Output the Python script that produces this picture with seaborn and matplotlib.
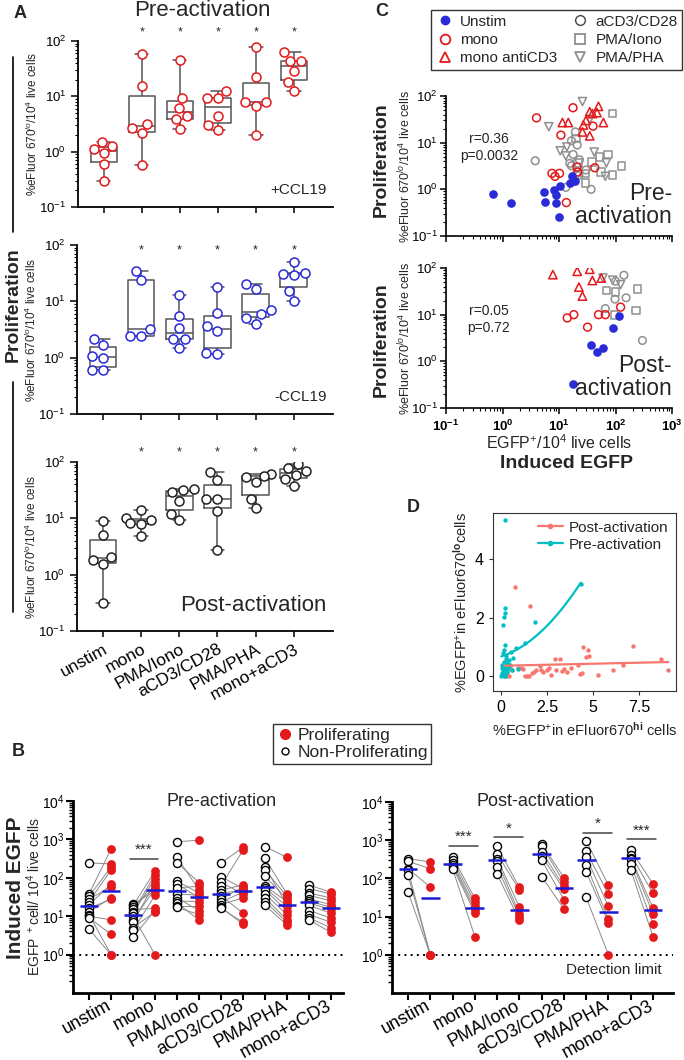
import numpy as np
import pandas as pd
import matplotlib
matplotlib.use('Agg')
import matplotlib.pyplot as plt
from matplotlib.lines import Line2D
from matplotlib.ticker import LogLocator, FixedLocator, NullFormatter, LogFormatterSciNotation
import seaborn as sns

W, H = 684, 1060

CONDS = ['unstim', 'mono', 'PMA/Iono', 'aCD3/CD28', 'PMA/PHA', 'mono+aCD3']

# Panel A: proliferation per condition (one list per condition)
A_PLUS = [[1.52, 1.27, 1.11, 0.93, 0.59, 0.30],
          [59, 15.3, 3.2, 2.64, 2.18, 0.58],
          [45, 9.2, 6.05, 4.4, 3.84, 2.54],
          [12.4, 9.4, 9.4, 4.47, 3.03, 2.47],
          [78, 22.5, 7.8, 7.8, 6.7, 2.03],
          [63, 43.6, 43.6, 28.8, 17.8, 12.4]]
A_MINUS = [[2.16, 1.71, 1.09, 0.98, 0.61, 0.61],
           [35, 24, 3.2, 2.47, 2.45],
           [13, 5.45, 3.43, 2.16, 2.16, 1.5],
           [18, 6.3, 3.62, 2.99, 1.2, 1.16],
           [20.6, 16.8, 7.05, 5.9, 5.15, 4.04],
           [49, 32.4, 30.6, 29.5, 15.1, 10.2]]
A_POST = [[9.0, 5.1, 2.06, 1.85, 1.55, 0.31],
          [14.1, 10, 9.5, 8.3, 8.0, 4.9],
          [33.2, 31.4, 29, 20.6, 12.1, 9.2],
          [66, 48.5, 22, 22, 13.3, 2.78],
          [62, 57, 54, 43.5, 22.4, 15],
          [92, 77, 68, 58, 50, 38]]
A_STAR_Y = [140, 81, 150]

# Panel B: induced EGFP, paired per donor (non-proliferating vs proliferating)
B_PRE_NON = [[245, 38, 33, 28, 24, 20, 16, 13, 11, 10, 9, 4.6],
             [21, 19, 17, 15, 13, 12, 10, 8, 7, 5, 4.3, 2.9],
             [870, 340, 250, 82, 70, 55, 38, 30, 25, 22, 18, 17],
             [240, 108, 76, 62, 48, 40, 34, 28, 23, 20, 17, 16],
             [650, 320, 190, 160, 110, 62, 55, 48, 38, 30, 24, 19],
             [65, 52, 40, 35, 28, 25, 22, 19, 14, 11, 9, 8]]
B_PRE_PRO = [[230, 560, 190, 58, 160, 68, 28, 30, 1, 8, 3.4, 1],
             [45, 150, 60, 16, 120, 95, 1, 52, 75, 13, 35, 14],
             [950, 48, 75, 40, 30, 60, 35, 14, 24, 8, 18, 11],
             [620, 52, 38, 520, 65, 47, 12, 58, 43, 30, 6.2, 7],
             [340, 38, 20, 33, 28, 24, 18, 14, 11, 8, 7, 6],
             [42, 38, 30, 25, 20, 17, 15, 12, 9, 7, 5, 3.8]]
B_POST_NON = [[330, 280, 180, 165, 120, 44],
              [370, 300, 250, 230, 200, 180],
              [700, 440, 330, 280, 200, 130],
              [800, 720, 500, 380, 300, 112],
              [980, 520, 360, 230, 148, 32],
              [560, 420, 350, 320, 240, 170]]
B_POST_PRO = [[270, 180, 59, 1, 1, 1],
              [30, 24, 19, 15, 12.5, 3],
              [58, 50, 18, 12, 10, 8],
              [105, 80, 62, 52, 28, 16],
              [66, 38, 18.6, 8.5, 7, 1],
              [72, 41, 17, 12, 6.5, 3]]
SIG_PRE = [(1, 310, '***')]
SIG_POST = [(1, 720, '***'), (2, 1200, '*'), (4, 1540, '*'), (5, 1050, '***')]

# Panel C: EGFP+ vs proliferation (x, y)
PRE_UNSTIM = ([0.68, 1.4, 5.4, 5.6, 8.2, 8.9, 8.7, 9.9, 10.5, 15.4, 17, 19.5],
              [0.78, 0.52, 0.88, 0.54, 0.98, 0.75, 0.52, 0.26, 1.16, 1.37, 1.9, 1.53])
PRE_MONO = ([4.0, 17.7, 10.8, 40, 7.5, 10.2, 20.8, 21.4, 43, 13.5, 8.5],
            [34, 56, 14.5, 22.6, 2.2, 2.2, 3.0, 2.35, 2.9, 0.52, 1.9])
PRE_MONOCD3 = ([11.5, 14.6, 27, 30, 35, 39, 47, 50, 61, 26, 35],
               [27, 27, 24, 30, 46, 42, 44, 60, 27, 17, 14])
PRE_CD28 = ([3.8, 19.5, 16.6, 21, 17.8, 15.5, 23, 30, 13.2, 37, 22.5, 16.6],
            [4.1, 17, 11, 8.9, 5.6, 3.6, 4.3, 2.6, 1.1, 1.0, 2.0, 3.2])
PRE_IONO = ([21.5, 38, 52, 73, 29, 56, 89, 127, 29.5, 89, 20],
            [3.7, 3.9, 5.0, 5.6, 2.2, 2.35, 2.0, 3.2, 1.37, 42, 12.3])
PRE_PHA = ([26, 6.6, 35, 10.5, 13.2, 13.8, 42, 69, 66, 21],
           [76, 22, 31.5, 6.7, 5.2, 8.1, 6.3, 3.7, 1.9, 1.95])
POST_UNSTIM = ([117, 92, 37, 47, 60, 17.8], [9.2, 5.2, 2.2, 1.56, 1.9, 0.32])
POST_MONO = ([14, 18.3, 32, 50, 66, 123], [8.5, 10, 5.4, 10, 10, 14.5])
POST_MONOCD3 = ([7.8, 21, 35, 39, 56, 22.5, 26], [72, 85, 94, 54, 61, 39, 25])
POST_CD28 = ([66, 100, 141, 154, 300, 98], [13.5, 52, 70, 23, 2.8, 21.5])
POST_IONO = ([69, 100, 245, 229, 96], [33, 31, 36, 12.4, 9.7])
POST_PHA = ([60, 89, 123], [61, 55, 44])

# Panel D: %EGFP+ in eFluor670 hi vs lo cells
PRE_D_X = [0.24, 4.33, 0.24, 0.24, 0.16, 0.11, 1.87, 1.29, 0.83, 0.24, 0.16, 0.56, 0.65,
           0.38, 0.1, 0.2, 0.3, 0.05, 0.12, 0.45, 0.28, 0.18, 0.08, 0.35, 0.5, 0.22,
           0.15, 0.02, 0.06, 0.4, 0.3, 0.1, 0.25, 0.6, 0.95, 0.14, 0.33, 0.04]
PRE_D_Y = [5.31, 3.14, 2.32, 2.15, 2.03, 1.75, 1.86, 1.12, 0.97, 1.06, 0.89, 0.83, 0.61,
           0.43, 0.3, 0.35, 0.7, 0.1, 0.2, 0.55, 0.25, 0.5, 0.05, 0.15, 0.4, 0.0,
           0.12, 0.02, 0.38, 0.3, 0.6, 0.8, 0.45, 0.22, 0.25, 0.0, 0.18, 0.28]
POST_D_X = [0.78, 1.56, 4.47, 4.73, 4.64, 7.17, 4.8, 2.95, 3.19, 8.68, 9.08, 6.09, 6.63,
            5.27, 0.3, 0.5, 0.9, 1.1, 1.3, 1.5, 1.7, 1.9, 2.1, 2.3, 2.5, 2.7, 3.4,
            3.6, 3.8, 4.2, 4.4, 0.2, 0.35, 0.6, 1.2, 1.8, 2.6, 3.0, 3.3, 0.45, 4.3, 1.4, 2.2]
POST_D_Y = [3.04, 2.4, 1.0, 0.89, 0.66, 1.04, 0.69, 0.59, 0.58, 0.6, 0.23, 0.23, 0.38,
            0.03, 0.0, 0.3, 0.28, 0.3, 0.0, 0.0, 0.1, 0.2, 0.35, 0.15, 0.2, 0.05, 0.25,
            0.15, 0.3, 0.4, 0.12, 0.05, 0.1, 0.2, 0.25, 0.15, 0.3, 0.2, 0.18, 0.0, 0.08, 0.0, 0.22]

RED = '#e3191c'
BLUE = '#2a2ad8'
GRAY = '#8f8f8f'

sns.set_style('ticks')
plt.rcParams['font.family'] = ['Liberation Sans', 'DejaVu Sans']
plt.rcParams['mathtext.fontset'] = 'custom'
plt.rcParams['mathtext.rm'] = 'Liberation Sans'
plt.rcParams['mathtext.it'] = 'Liberation Sans:italic'
plt.rcParams['mathtext.bf'] = 'Liberation Sans:bold'
plt.rcParams['axes.edgecolor'] = 'black'
plt.rcParams['xtick.color'] = 'black'
plt.rcParams['ytick.color'] = 'black'


def ax_px(fig, l, t, r, b):
    return fig.add_axes([l / W, 1 - b / H, (r - l) / W, (b - t) / H])


def log_ticks(axis, lo, hi, labeled=True):
    axis.set_major_locator(FixedLocator([10.0 ** k for k in range(lo, hi + 1)]))
    axis.set_minor_locator(LogLocator(base=10, subs=np.arange(2, 10), numticks=20))
    axis.set_minor_formatter(NullFormatter())
    if labeled:
        axis.set_major_formatter(LogFormatterSciNotation())
    else:
        axis.set_major_formatter(NullFormatter())


def box_panel(ax, vals, color, star_y, tag, tag_size, tag_y, show_labels):
    df = pd.DataFrame({'cond': np.repeat(CONDS, [len(v) for v in vals]),
                       'val': np.concatenate(vals)})
    sns.boxplot(data=df, x='cond', y='val', order=CONDS, log_scale=True,
                whis=(0, 100), fill=False, color='#555555', width=0.7,
                linewidth=1.1, showfliers=False, ax=ax)
    n0 = len(ax.collections)
    sns.swarmplot(data=df, x='cond', y='val', order=CONDS, log_scale=True,
                  size=6.5, color=color, ax=ax, zorder=3)
    # hollow markers, one collection per category
    for pts in ax.collections[n0:]:
        pts.set_facecolor('white')
        pts.set_edgecolor(color)
        pts.set_linewidth(1.1)

    ax.set_ylim(0.1, 100)
    ax.set_xlim(-0.68, 6.03)
    log_ticks(ax.yaxis, -1, 2)
    ax.set_xticks(range(len(CONDS)))
    if show_labels:
        ax.set_xticklabels(CONDS, rotation=29, ha='right', rotation_mode='anchor',
                           fontsize=12.5)
    else:
        ax.set_xticklabels([])
    ax.set_xlabel('')
    ax.set_ylabel('%eFluor 670$^{lo}$/10$^4$ live cells', fontsize=8.5)
    ax.yaxis.set_label_coords(-0.15, 0.5)
    ax.tick_params(axis='y', which='major', labelsize=9.5, length=5, width=1.1)
    ax.tick_params(axis='y', which='minor', length=2.5, width=0.8)
    ax.tick_params(axis='x', length=4, width=1.1)
    sns.despine(ax=ax)
    for s in ['left', 'bottom']:
        ax.spines[s].set_linewidth(1.3)
    for i in range(1, len(CONDS)):
        ax.text(i, star_y, '*', ha='center', va='center', fontsize=9, clip_on=False)
    ax.text(0.975, tag_y, tag, transform=ax.transAxes, ha='right', va='center',
            fontsize=tag_size)


def pair_panel(ax, non, pro, title, title_x, sig):
    rows = []
    for i in range(len(CONDS)):
        for d, (a, b) in enumerate(zip(non[i], pro[i])):
            rows.append({'pos': 2 * i, 'val': a, 'grp': 'non', 'unit': f'{i}_{d}'})
            rows.append({'pos': 2 * i + 1, 'val': b, 'grp': 'pro', 'unit': f'{i}_{d}'})
    df = pd.DataFrame(rows)
    ax.set_yscale('log')
    sns.lineplot(data=df, x='pos', y='val', units='unit', estimator=None,
                 color='#8a8a8a', lw=0.7, ax=ax, legend=False, zorder=1)
    sns.scatterplot(data=df[df.grp == 'non'], x='pos', y='val', s=34, color='white',
                    edgecolor='black', linewidth=1.0, ax=ax, zorder=3)
    sns.scatterplot(data=df[df.grp == 'pro'], x='pos', y='val', s=40, color=RED,
                    edgecolor=RED, linewidth=0, ax=ax, zorder=3)
    med = df.groupby('pos')['val'].median()
    ax.hlines(med.values, med.index - 0.42, med.index + 0.42, color='#1a1ad6',
              lw=1.8, zorder=4)
    ax.axhline(1, color='black', ls=(0, (1, 2.2)), lw=1.4, zorder=0)
    for i, y, txt in sig:
        ax.plot([2 * i - 0.15, 2 * i + 1.15], [y, y], color='#444444', lw=1.1)
        ax.text(2 * i + 0.5, y * 1.12, txt, ha='center', va='bottom', fontsize=11)

    ax.set_ylim(0.1, 1e4)
    log_ticks(ax.yaxis, 0, 4)
    ax.set_xticks(range(12))
    ax.set_xticklabels([])
    ax.set_xticks([2 * i + 0.78 for i in range(len(CONDS))], minor=True)
    ax.set_xticklabels(CONDS, minor=True, rotation=29, ha='right',
                       rotation_mode='anchor', fontsize=13)
    ax.tick_params(axis='x', which='minor', length=0, pad=3)
    ax.tick_params(axis='x', which='major', length=5, width=1.5)
    ax.tick_params(axis='y', which='major', labelsize=10, length=5, width=1.5, pad=1)
    ax.tick_params(axis='y', which='minor', length=3, width=1.0)
    ax.set_xlabel('')
    ax.set_ylabel('')
    sns.despine(ax=ax)
    for s in ['left', 'bottom']:
        ax.spines[s].set_linewidth(2.0)
    ax.text(title_x, 1.0, title, transform=ax.transAxes, ha='center', va='center',
            fontsize=13)


def scatter_panel(ax, groups, stats, tag, xlabels):
    ax.set_xscale('log')
    ax.set_yscale('log')
    for (xs, ys), color, marker, hollow, size in groups:
        sns.scatterplot(x=xs, y=ys, marker=marker, s=size, color=color,
                        linewidth=1.1, ax=ax, zorder=3)
        pts = ax.collections[-1]
        if hollow:
            pts.set_facecolor('none')
        pts.set_edgecolor(color)
    ax.set_xlim(0.1, 1000)
    ax.set_ylim(0.1, 100)
    log_ticks(ax.yaxis, -1, 2)
    log_ticks(ax.xaxis, -1, 3, labeled=xlabels)
    ax.tick_params(axis='both', which='major', labelsize=9.5, length=4, width=1.1)
    ax.tick_params(axis='y', which='major', pad=2)
    ax.tick_params(axis='both', which='minor', length=2, width=0.8)
    if xlabels:
        for lab in ax.get_xticklabels():
            lab.set_fontweight('bold')
    sns.despine(ax=ax)
    for s in ['left', 'bottom']:
        ax.spines[s].set_linewidth(1.2)
    ax.set_ylabel('%eFluor 670$^{lo}$/10$^4$ live cells', fontsize=9)
    ax.yaxis.set_label_coords(-0.145, 0.5)
    ax.text(0.19, 0.63, stats, transform=ax.transAxes, ha='center', va='center',
            fontsize=10, linespacing=1.25)
    ax.text(1.0, 0.22, tag, transform=ax.transAxes, ha='right', va='center',
            fontsize=16.5, linespacing=1.0)


fig = plt.figure(figsize=(W / 100, H / 100), dpi=100)

# ---- Panel A ----
a1 = ax_px(fig, 78, 41, 333, 207)
box_panel(a1, A_PLUS, RED, A_STAR_Y[0], '+CCL19', 11, 0.10, False)
a2 = ax_px(fig, 77, 245, 333, 414)
box_panel(a2, A_MINUS, BLUE, A_STAR_Y[1], '-CCL19', 11, 0.10, False)
a3 = ax_px(fig, 77, 462, 333, 631)
box_panel(a3, A_POST, '#222222', A_STAR_Y[2], 'Post-activation', 16, 0.15, True)

fig.text(20 / W, 1 - 13 / H, 'A', fontsize=13, fontweight='bold', ha='center', va='center')
fig.text(202 / W, 1 - 11 / H, 'Pre-activation', fontsize=16, ha='center', va='center')
fig.text(13 / W, 1 - 305 / H, 'Proliferation', fontsize=14, fontweight='bold',
         rotation=90, ha='center', va='center')
for y0, y1 in [(57, 232), (382, 612)]:
    fig.add_artist(Line2D([13 / W, 13 / W], [1 - y0 / H, 1 - y1 / H], color='black',
                          lw=1.2, transform=fig.transFigure))

# ---- Panel B ----
b1 = ax_px(fig, 73, 801, 343, 993)
pair_panel(b1, B_PRE_NON, B_PRE_PRO, 'Pre-activation', 0.55, SIG_PRE)
b1.set_xlim(-0.73, 11.55)
b2 = ax_px(fig, 392, 802, 673, 993)
pair_panel(b2, B_POST_NON, B_POST_PRO, 'Post-activation', 0.51, SIG_POST)
b2.set_xlim(-0.72, 11.9)
b2.text(0.96, 0.12, 'Detection limit', transform=b2.transAxes, ha='right',
        va='center', fontsize=11)
b1.set_ylabel('EGFP $^+$cell/ 10$^4$ live cells', fontsize=10)
b1.yaxis.set_label_coords(-0.11, 0.5)

fig.text(18 / W, 1 - 752 / H, 'B', fontsize=13, fontweight='bold', ha='center', va='center')
fig.text(16 / W, 1 - 888 / H, 'Induced EGFP', fontsize=15, fontweight='bold',
         rotation=90, ha='center', va='center')
b_handles = [Line2D([], [], ls='', marker='o', ms=7, mfc=RED, mec=RED),
             Line2D([], [], ls='', marker='o', ms=5, mfc='white', mec='black', mew=1)]
fig.legend(b_handles, ['Proliferating', 'Non-Proliferating'], loc='upper left',
           bbox_to_anchor=(273 / W, 1 - 724 / H), frameon=True, fancybox=False,
           edgecolor='black', fontsize=12.5, handletextpad=0.2, borderpad=0.2,
           labelspacing=0.15, handlelength=1.0, borderaxespad=0)

# ---- Panel C ----
pre_groups = [(PRE_CD28, GRAY, 'o', True, 30), (PRE_IONO, GRAY, 's', True, 30),
              (PRE_PHA, GRAY, 'v', True, 34), (PRE_MONO, RED, 'o', True, 32),
              (PRE_MONOCD3, RED, '^', True, 36), (PRE_UNSTIM, BLUE, 'o', False, 26)]
post_groups = [(POST_CD28, GRAY, 'o', True, 30), (POST_IONO, GRAY, 's', True, 30),
               (POST_PHA, GRAY, 'v', True, 34), (POST_MONO, RED, 'o', True, 32),
               (POST_MONOCD3, RED, '^', True, 36), (POST_UNSTIM, BLUE, 'o', False, 26)]
c1 = ax_px(fig, 446, 96, 672, 236)
scatter_panel(c1, pre_groups, 'r=0.36\np=0.0032', 'Pre-\nactivation', False)
c2 = ax_px(fig, 446, 268, 672, 408)
scatter_panel(c2, post_groups, 'r=0.05\np=0.72', 'Post-\nactivation', True)
c2.set_xlabel('EGFP$^{+}$/10$^{4}$ live cells', fontsize=11.5, labelpad=0)

fig.text(382 / W, 1 - 11 / H, 'C', fontsize=13, fontweight='bold', ha='center', va='center')
fig.text(567 / W, 1 - 463 / H, 'Induced EGFP', fontsize=14, fontweight='bold',
         ha='center', va='center')
for yc in [160, 340]:
    fig.text(381 / W, 1 - yc / H, 'Proliferation', fontsize=14, fontweight='bold',
             rotation=90, ha='center', va='center')
c_handles = [Line2D([], [], ls='', marker='o', ms=6, mfc=BLUE, mec=BLUE),
             Line2D([], [], ls='', marker='o', ms=7, mfc='none', mec=RED, mew=1.3),
             Line2D([], [], ls='', marker='^', ms=7, mfc='none', mec=RED, mew=1.3),
             Line2D([], [], ls='', marker='o', ms=7, mfc='none', mec='#444444', mew=1.0),
             Line2D([], [], ls='', marker='s', ms=7, mfc='none', mec=GRAY, mew=1.3),
             Line2D([], [], ls='', marker='v', ms=7, mfc='none', mec=GRAY, mew=1.3)]
fig.legend(c_handles, ['Unstim', 'mono', 'mono antiCD3', 'aCD3/CD28', 'PMA/Iono',
                       'PMA/PHA'], ncol=2, loc='upper left',
           bbox_to_anchor=(431 / W, 1 - 10 / H), frameon=True, fancybox=False,
           edgecolor='black', fontsize=11, handletextpad=0.4, borderpad=0.3,
           labelspacing=0.28, handlelength=1.2, columnspacing=0.9, borderaxespad=0)

# ---- Panel D ----
TEAL = '#00BFC4'
SALMON = '#F8766D'
d = ax_px(fig, 493, 513, 676, 691)
sns.scatterplot(x=POST_D_X, y=POST_D_Y, color=SALMON, s=10, linewidth=0, ax=d)
sns.scatterplot(x=PRE_D_X, y=PRE_D_Y, color=TEAL, s=10, linewidth=0, ax=d)
sns.regplot(x=POST_D_X, y=POST_D_Y, scatter=False, ci=None, color=SALMON,
            line_kws={'lw': 1.6}, ax=d)
sns.regplot(x=PRE_D_X, y=PRE_D_Y, order=2, scatter=False, ci=None, color=TEAL,
            line_kws={'lw': 1.6}, ax=d)
d.set_xlim(-0.43, 9.5)
d.set_ylim(-0.5, 5.56)
d.set_xticks([0, 2.5, 5, 7.5])
d.set_xticklabels(['0', '2.5', '5', '7.5'])
d.set_yticks([0, 2, 4])
d.tick_params(axis='both', labelsize=11.5, length=3, color='#333333', width=0.8)
for s in d.spines.values():
    s.set_color('#333333')
    s.set_linewidth(0.8)
d.set_xlabel('%EGFP$^{+}$in eFluor670$^{\\mathbf{hi}}$ cells', fontsize=10.5)
d.set_ylabel('%EGFP$^{+}$in eFluor670$^{\\mathbf{lo}}$cells', fontsize=10.5)
d_handles = [Line2D([], [], color=SALMON, marker='o', ms=3, lw=1.6),
             Line2D([], [], color=TEAL, marker='o', ms=3, lw=1.6)]
d.legend(d_handles, ['Post-activation', 'Pre-activation'], loc='upper right',
         frameon=False, fontsize=11, handlelength=1.6, handletextpad=0.4,
         borderaxespad=0.1, labelspacing=0.2)
fig.text(413 / W, 1 - 507 / H, 'D', fontsize=13, fontweight='bold', ha='center', va='center')

fig.savefig('out.png', dpi=100)
